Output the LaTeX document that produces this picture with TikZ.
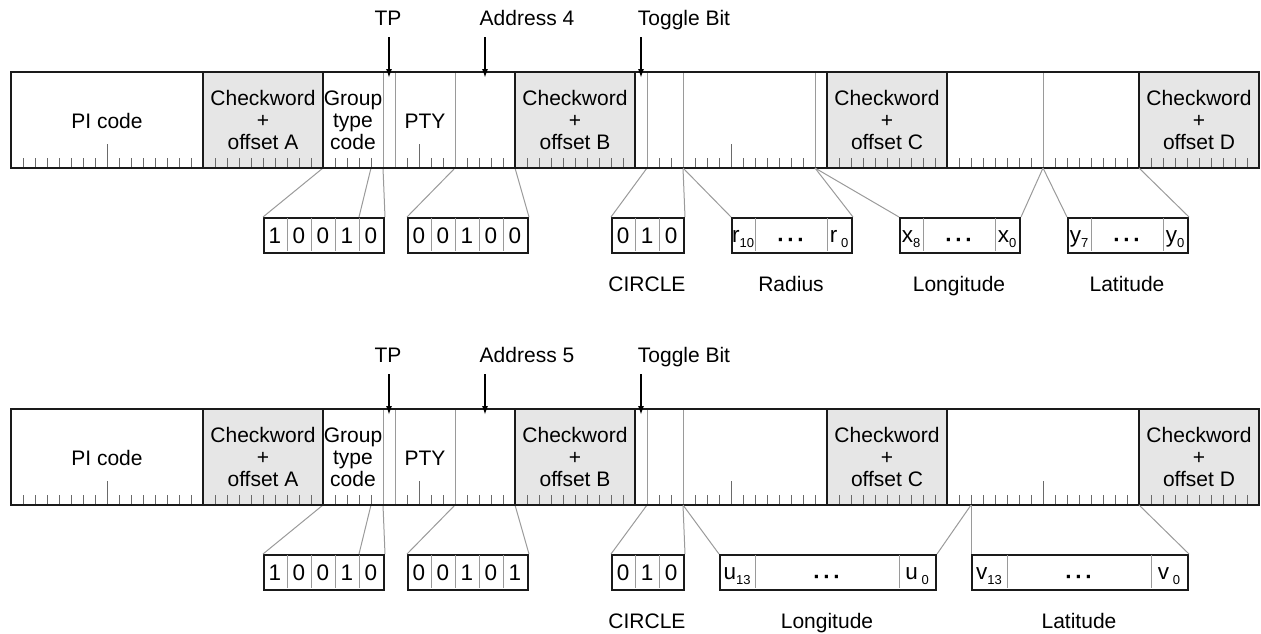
\documentclass[tikz,border=0pt]{standalone}
\usepackage{fontspec}
\setmainfont{Liberation Sans}
\usetikzlibrary{arrows.meta}
\definecolor{ckgray}{HTML}{E6E6E6}
\definecolor{dark}{HTML}{1A1A1A}
\definecolor{sepgray}{HTML}{9A9A9A}
\definecolor{tickgray}{HTML}{6A6A6A}
\newcommand\fsz{\fontsize{21}{22}\selectfont}
\newcommand\dsz{\fontsize{22.5}{23}\selectfont}
\newcommand\sbs[1]{\raisebox{-5pt}{\fontsize{13}{13}\selectfont #1}}
\newcommand\dts{{\bfseries\textperiodcentered\hspace{2.5pt}\textperiodcentered\hspace{2.5pt}\textperiodcentered}}
\newcommand\rdsbar[2]{%
  \foreach \n/\x/\l in {ckA/263/A,ckB/575/B,ckC/887/C,ckD/1199/D}
    \node[ckbox] (\n) at (\x,120) {Checkword\\+\\offset \l};
  \node (pi) at (107,121) {PI code};
  \node[align=center] (gtc) at (353,120) {Group\\type\\code};
  \node (pty) at (425,121) {PTY};
  \foreach \i in {1,...,103} \draw[tick] ({11+12*\i},168) -- ({11+12*\i},158);
  \foreach \x in {107,419,731,1043} \draw[tick] (\x,168) -- (\x,144);
  \foreach \x in {383,395,455,647,683} \draw[sepline] (\x,72) -- (\x,168);
  % arrows on top
  \node[anchor=base] (tp) at (388,25) {TP};
  \node[anchor=base] (addr) at (527,25) {Address #1};
  \node[anchor=base] (tog) at (684,25) {Toggle Bit};
  \coordinate (tpS) at (389,37);  \coordinate (tpT) at (389,78);
  \coordinate (adS) at (485,37);  \coordinate (adT) at (485,78);
  \coordinate (tgS) at (641,37);  \coordinate (tgT) at (641,78);
  % bar bottom points
  \foreach \x in {323,371,383,455,515,647,683,815,971,1043,1139}
    \coordinate (c\x) at (\x,168);
  % group type box
  \node[bitbox, minimum width=120pt] (gb) at (263,217) {};
  \foreach \k in {1,...,4} \draw[sepline] ({263+24*\k},218) -- ({263+24*\k},251);
  \foreach \d [count=\k] in {1,0,0,1,0} \node[digit] (gb\k) at ({251+24*\k},243) {\d};
  \draw[conn] (c323) -- (gb.north west);
  \draw[conn] (c371) -- ([xshift=96pt]gb.north west);
  \draw[conn] (c383) -- (gb.north east);
  % PTY box
  \node[bitbox, minimum width=120pt] (pb) at (407,217) {};
  \foreach \k in {1,...,4} \draw[sepline] ({407+24*\k},218) -- ({407+24*\k},251);
  \foreach \d [count=\k] in {#2} \node[digit] (pb\k) at ({395+24*\k},243) {\d};
  \draw[conn] (c455) -- (pb.north west);
  \draw[conn] (c515) -- (pb.north east);
  % CIRCLE box
  \node[bitbox, minimum width=72pt] (cb) at (611,217) {};
  \foreach \k in {1,2} \draw[sepline] ({611+24*\k},218) -- ({611+24*\k},251);
  \foreach \d [count=\k] in {0,1,0} \node[digit] (cb\k) at ({599+24*\k},243) {\d};
  \draw[conn] (c647) -- (cb.north west);
  \draw[conn] (c683) -- (cb.north east);
  \node[anchor=base] (lcircle) at (647,291) {CIRCLE};
}
\begin{document}
\begin{tikzpicture}[x=1pt,y=-1pt,
  every node/.style={font=\fsz, inner sep=0pt, text=black},
  digit/.style={anchor=base, font=\dsz},
  outline/.style={draw=dark, line width=2pt},
  sepline/.style={draw=sepgray, line width=1pt},
  tick/.style={draw=tickgray, line width=0.8pt},
  ckbox/.style={fill=ckgray, minimum width=120pt, minimum height=96pt, align=center},
  bitbox/.style={draw=dark, line width=2pt, minimum height=35pt, anchor=north west},
  conn/.style={draw=sepgray, line width=1pt},
  arr/.style={draw=black, line width=1.6pt, -{Latex[length=9pt,width=6pt]}},
]
\useasboundingbox (0,0) rectangle (1261,633);

% ===== upper diagram =====
\begin{scope}[name prefix=t-]
  \rdsbar{4}{0,0,1,0,0}
  \foreach \x in {815,1043} \draw[sepline] (\x,72) -- (\x,168);
  \foreach \n in {ckA,ckB,ckC,ckD} \draw[outline] (\n.north west) rectangle (\n.south east);
  \draw[outline] (11,72) rectangle (1259,168);
  \draw[arr] (tpS) -- (tpT);
  \draw[arr] (adS) -- (adT);
  \draw[arr] (tgS) -- (tgT);
  % radius
  \node[bitbox, minimum width=120pt] (rb) at (731,217) {};
  \foreach \x in {755,827} \draw[sepline] (\x,218) -- (\x,251);
  \node[digit] (r1) at (743,242) {r\sbs{10}};
  \node[digit] (r2) at (791,247) {\dts};
  \node[digit] (r3) at (839,242) {r\,\sbs{0}};
  \draw[conn] (c683) -- (rb.north west);
  \draw[conn] (c815) -- (rb.north east);
  \node[anchor=base] (lrad) at (791,291) {Radius};
  % longitude
  \node[bitbox, minimum width=120pt] (xb) at (899,217) {};
  \foreach \x in {923,995} \draw[sepline] (\x,218) -- (\x,251);
  \node[digit] (x1) at (911,242) {x\sbs{8}};
  \node[digit] (x2) at (959,247) {\dts};
  \node[digit] (x3) at (1007,242) {x\sbs{0}};
  \draw[conn] (c815) -- (xb.north west);
  \draw[conn] (c1043) -- (xb.north east);
  \node[anchor=base] (llon) at (959,291) {Longitude};
  % latitude
  \node[bitbox, minimum width=120pt] (yb) at (1067,217) {};
  \foreach \x in {1091,1163} \draw[sepline] (\x,218) -- (\x,251);
  \node[digit] (y1) at (1079,242) {y\sbs{7}};
  \node[digit] (y2) at (1127,247) {\dts};
  \node[digit] (y3) at (1175,242) {y\sbs{0}};
  \draw[conn] (c1043) -- (yb.north west);
  \draw[conn] (c1139) -- (yb.north east);
  \node[anchor=base] (llat) at (1127,291) {Latitude};
\end{scope}

% ===== lower diagram =====
\begin{scope}[name prefix=b-, yshift=-337pt]
  \rdsbar{5}{0,0,1,0,1}
  \foreach \n in {ckA,ckB,ckC,ckD} \draw[outline] (\n.north west) rectangle (\n.south east);
  \draw[outline] (11,72) rectangle (1259,168);
  \draw[arr] (tpS) -- (tpT);
  \draw[arr] (adS) -- (adT);
  \draw[arr] (tgS) -- (tgT);
  % longitude
  \node[bitbox, minimum width=216pt] (ub) at (719,217) {};
  \foreach \x in {755,899} \draw[sepline] (\x,218) -- (\x,251);
  \node[digit] (u1) at (737,242) {u\sbs{13}};
  \node[digit] (u2) at (827,247) {\dts};
  \node[digit] (u3) at (917,242) {u\,\sbs{0}};
  \draw[conn] (c683) -- (ub.north west);
  \draw[conn] (c971) -- (ub.north east);
  \node[anchor=base] (llon) at (827,291) {Longitude};
  % latitude
  \node[bitbox, minimum width=216pt] (vb) at (971,217) {};
  \foreach \x in {1007,1151} \draw[sepline] (\x,218) -- (\x,251);
  \node[digit] (v1) at (989,242) {v\sbs{13}};
  \node[digit] (v2) at (1079,247) {\dts};
  \node[digit] (v3) at (1169,242) {v\,\sbs{0}};
  \draw[conn] (c971) -- (vb.north west);
  \draw[conn] (c1139) -- (vb.north east);
  \node[anchor=base] (llat) at (1079,291) {Latitude};
\end{scope}
\end{tikzpicture}
\end{document}
